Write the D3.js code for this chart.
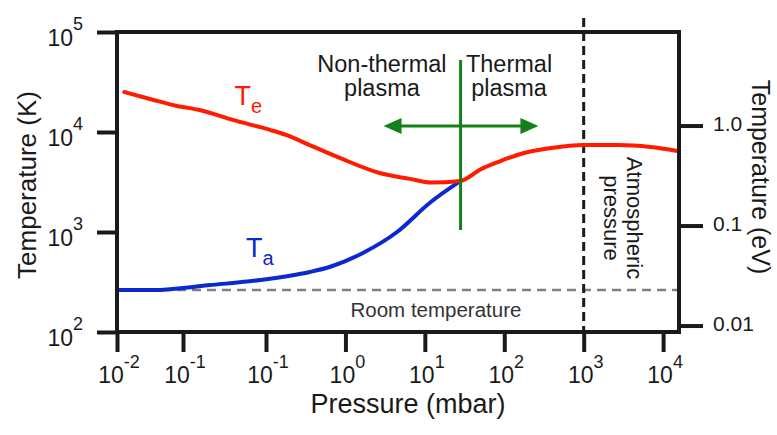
<!DOCTYPE html>
<html>
<head>
<meta charset="utf-8">
<script src="https://cdn.jsdelivr.net/npm/d3@7"></script>
<style>
body{margin:0;background:#fff}
svg{font-family:"Liberation Sans",Arial,Helvetica,sans-serif}
</style>
</head>
<body>
<div id="chart"></div>
<script>
/* electron / gas temperature vs pressure
 * x is drawn in "tick units" (one unit per printed tick), because the
 * printed decades are not evenly spaced in the figure */

// x ticks, labels as printed (the third one really reads 10^-1)
const tickIndex = [0, 1, 2, 3, 4, 5, 6, 7]
const tickExponent = ['-2', '-1', '-1', '0', '1', '2', '3', '4']

// left axis (K) and right axis (eV)
const kelvinTicks = [1e2, 1e3, 1e4, 1e5]
const kelvinExponent = ['2', '3', '4', '5']
const evTicks = [0.01, 0.1, 1]
const evLabels = ['0.01', '0.1', '1.0']
const KELVIN_PER_EV = 11604

// electron temperature Te
const teX = [0.11, 0.5, 0.91, 1.2, 1.6, 2.05, 2.26, 2.55, 2.93, 3.43, 3.81, 4.08, 4.45, 4.71, 4.92, 5.25, 5.59, 6.0, 6.43, 6.84, 7.18]
const teK = [25100, 21400, 18200, 16600, 13200, 10500, 9300, 7400, 5500, 3890, 3400, 3120, 3240, 4270, 5010, 6170, 6920, 7410, 7410, 7080, 6460]

// gas temperature Ta
const taX = [0.02, 0.55, 1.33, 1.93, 2.55, 2.8, 3.22, 3.65, 4.06, 4.45]
const taK = [263, 263, 295, 331, 398, 447, 617, 1000, 1950, 3240]

// reference lines
const roomTempK = 263
const atmosphereX = 6          // 10^3 mbar
const transitionX = 4.45       // non-thermal / thermal boundary

const width = 777
const height = 435
const margin = {top: 32, left: 117}
const W = 562
const H = 300

const svg = d3.select('#chart').append('svg')
	.attr('width', width)
	.attr('height', height)
const g = svg.append('g')
	.attr('transform', `translate(${margin.left},${margin.top})`)

//piecewise scale: the first two tick gaps differ from the rest
const x = d3.scaleLinear().domain([0, 1, 2, 7.2]).range([0, 66, 149, W])
const y = d3.scaleLog().domain([1e2, 1e5]).range([H, 0])
const yEv = d3.scaleLog().domain([1e2 / KELVIN_PER_EV, 1e5 / KELVIN_PER_EV]).range([H, 0])

const black = '#1a1a1a'
const red = '#ff1a00'
const blue = '#0a2ad0'
const green = '#15801a'

// room temperature (grey dashed)
g.append('line')
	.attr('x1', x(0)).attr('x2', W)
	.attr('y1', y(roomTempK)).attr('y2', y(roomTempK))
	.attr('stroke', '#808080').attr('stroke-width', 2.5)
	.attr('stroke-dasharray', '9,6')

g.append('text')
	.attr('x', x(4.14)).attr('y', y(10 ** 2.15))
	.attr('text-anchor', 'middle')
	.attr('font-size', 20.5).attr('fill', '#333')
	.text('Room temperature')

// atmospheric pressure (black dashed)
g.append('line')
	.attr('x1', x(atmosphereX)).attr('x2', x(atmosphereX))
	.attr('y1', y(10 ** 5.14)).attr('y2', H)
	.attr('stroke', black).attr('stroke-width', 3)
	.attr('stroke-dasharray', '9,5')

const atm = g.append('text')
	.attr('transform', `translate(${x(6.55)},${y(10 ** 3.14)}) rotate(90)`)
	.attr('text-anchor', 'middle')
	.attr('font-size', 22).attr('fill', black)
atm.append('tspan').attr('x', 0).attr('y', 0).text('Atmospheric')
atm.append('tspan').attr('x', 0).attr('y', 23).text('pressure')

// curves
const line = d3.line()
	.x(function(d) { return x(d[0]) })
	.y(function(d) { return y(d[1]) })
	.curve(d3.curveMonotoneX)

g.append('path')
	.datum(taX.map(function(v, i) { return [v, taK[i]] }))
	.attr('d', line)
	.attr('fill', 'none').attr('stroke', blue).attr('stroke-width', 4)
	.attr('stroke-linecap', 'round')

g.append('path')
	.datum(teX.map(function(v, i) { return [v, teK[i]] }))
	.attr('d', line)
	.attr('fill', 'none').attr('stroke', red).attr('stroke-width', 4)
	.attr('stroke-linecap', 'round')

// curve labels
function subLabel(px, py, main, sub, color) {
	const t = g.append('text')
		.attr('x', px).attr('y', py)
		.attr('font-size', 27).attr('fill', color)
	t.append('tspan').text(main)
	t.append('tspan').attr('dy', 8).attr('font-size', 20).text(sub)
}
subLabel(x(1.62), y(10 ** 4.27), 'T', 'e', red)
subLabel(x(1.76), y(10 ** 2.75), 'T', 'a', blue)

// green cross with arrows
const arrowY = y(10 ** 4.06)
const arrowL = x(3.48)
const arrowR = x(5.43)
g.append('line')
	.attr('x1', x(transitionX)).attr('x2', x(transitionX))
	.attr('y1', y(10 ** 4.72)).attr('y2', y(10 ** 3.02))
	.attr('stroke', green).attr('stroke-width', 3)
g.append('line')
	.attr('x1', arrowL + 10).attr('x2', arrowR - 10)
	.attr('y1', arrowY).attr('y2', arrowY)
	.attr('stroke', green).attr('stroke-width', 3)
g.append('path')
	.attr('d', `M${arrowL},${arrowY}L${arrowL + 18},${arrowY - 8}L${arrowL + 18},${arrowY + 8}Z` +
		`M${arrowR},${arrowY}L${arrowR - 18},${arrowY - 8}L${arrowR - 18},${arrowY + 8}Z`)
	.attr('fill', green)

function twoLines(px, l1, l2) {
	const t = g.append('text')
		.attr('text-anchor', 'middle')
		.attr('font-size', 23.5).attr('fill', black)
	t.append('tspan').attr('x', px).attr('y', y(10 ** 4.6)).text(l1)
	t.append('tspan').attr('x', px).attr('y', y(10 ** 4.36)).text(l2)
}
twoLines(x(3.46), 'Non-thermal', 'plasma')
twoLines(x(5.06), 'Thermal', 'plasma')

// frame
g.append('rect')
	.attr('width', W).attr('height', H)
	.attr('fill', 'none').attr('stroke', black).attr('stroke-width', 4)

// axes (ticks only, labels drawn below with superscripts)
const xAxis = g.append('g')
	.attr('transform', `translate(0,${H})`)
	.call(d3.axisBottom(x).tickValues(tickIndex).tickSize(20).tickSizeOuter(0).tickFormat(''))
const yAxis = g.append('g')
	.call(d3.axisLeft(y).tickValues(kelvinTicks).tickSize(20).tickSizeOuter(0).tickFormat(''))
const evAxis = g.append('g')
	.attr('transform', `translate(${W},0)`)
	.call(d3.axisRight(yEv).tickValues(evTicks).tickSize(24).tickSizeOuter(0).tickFormat(''))
;[xAxis, yAxis, evAxis].forEach(function(a) {
	a.select('.domain').remove()
	a.selectAll('.tick line').attr('stroke', black).attr('stroke-width', 4)
})

const xLab = g.selectAll('.x-label')
	.data(tickIndex)
	.enter().append('text')
	.attr('class', 'x-label')
	.attr('x', function(d) { return x(d) + 2 })
	.attr('y', H + 51)
	.attr('text-anchor', 'middle')
	.attr('font-size', 23).attr('fill', black)
xLab.append('tspan').text('10')
xLab.append('tspan').attr('dy', -15).attr('font-size', 18)
	.text(function(d, i) { return tickExponent[i] })

const yLab = g.selectAll('.y-label')
	.data(kelvinTicks)
	.enter().append('text')
	.attr('class', 'y-label')
	.attr('x', -34)
	.attr('y', function(d) { return y(d) + 14 })
	.attr('text-anchor', 'end')
	.attr('font-size', 23).attr('fill', black)
yLab.append('tspan').text('10')
yLab.append('tspan').attr('dy', -16).attr('font-size', 18)
	.text(function(d, i) { return kelvinExponent[i] })

g.selectAll('.ev-label')
	.data(evTicks)
	.enter().append('text')
	.attr('class', 'ev-label')
	.attr('x', W + 34)
	.attr('y', function(d) { return yEv(d) - 2 })
	.attr('dy', '0.35em')
	.attr('font-size', 21).attr('fill', black)
	.text(function(d, i) { return evLabels[i] })

// axis titles
svg.append('text')
	.attr('transform', 'translate(36,185) rotate(-90)')
	.attr('text-anchor', 'middle')
	.attr('font-size', 26).attr('fill', black)
	.text('Temperature (K)')
svg.append('text')
	.attr('transform', 'translate(752,177) rotate(90)')
	.attr('text-anchor', 'middle')
	.attr('font-size', 25).attr('fill', black)
	.text('Temperature (eV)')
svg.append('text')
	.attr('x', 408).attr('y', 413)
	.attr('text-anchor', 'middle')
	.attr('font-size', 27).attr('fill', black)
	.text('Pressure (mbar)')
</script>
</body>
</html>
